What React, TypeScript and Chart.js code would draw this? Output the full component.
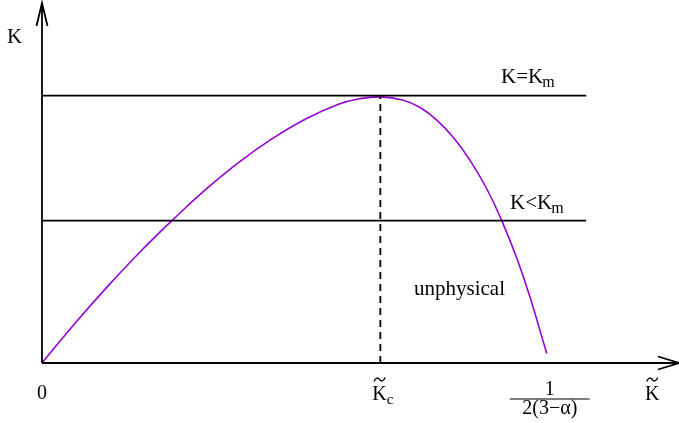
import React, { useEffect, useRef } from "react";
import { Chart, registerables } from "chart.js";

Chart.register(...registerables);

// Curve K(K~) (x: K~ in units of 1/(2(3-α)), y: K in units of K_m)
const curveX = [0, 0.0658, 0.1316, 0.1976, 0.2569, 0.3227, 0.3885, 0.4545, 0.5204, 0.5862, 0.6275, 0.669, 0.7146, 0.7476, 0.7806, 0.8134, 0.8464, 0.8794, 0.9091, 0.9387, 0.965, 0.998];
const curveY = [0, 0.1496, 0.2902, 0.4226, 0.5325, 0.647, 0.7491, 0.8377, 0.9114, 0.9675, 0.9878, 0.995, 0.9824, 0.9551, 0.9084, 0.8433, 0.7577, 0.6515, 0.5325, 0.3923, 0.2457, 0.0352];

const levelValues = [1, 0.5325]; // K = K_m, K < K_m
const levelLabels = ["K=K", "K<K"];
const levelEnd = 1.076;
const kcValue = 0.669;
const kcPeak = 0.995;
const xMax = 1.2595;
const yMax = 1.346;
const xTickValues = [0, kcValue, 1];

const SERIF = '"Liberation Serif", "DejaVu Serif", serif';

export default function App() {
  const ref = useRef<HTMLCanvasElement | null>(null);

  useEffect(() => {
    if (!ref.current) return;
    const black = "#000000";
    const purple = "#9400D3";

    const annot = {
      id: "annot",
      afterDatasetsDraw(chart: any) {
        const ctx = chart.ctx;
        const xs = chart.scales.x;
        const ys = chart.scales.y;
        const px = (v: number) => xs.getPixelForValue(v);
        const py = (v: number) => ys.getPixelForValue(v);
        ctx.save();
        ctx.strokeStyle = black;
        ctx.fillStyle = black;
        ctx.lineWidth = 1.8;
        // arrowheads
        const x0 = px(0), y0 = py(0);
        const xt = px(xMax), yt = py(yMax);
        ctx.beginPath();
        ctx.moveTo(xt - 21, y0 - 6.5);
        ctx.lineTo(xt, y0);
        ctx.lineTo(xt - 21, y0 + 6.5);
        ctx.stroke();
        ctx.beginPath();
        ctx.moveTo(x0 - 5.5, yt + 23);
        ctx.lineTo(x0, yt);
        ctx.lineTo(x0 + 5.5, yt + 23);
        ctx.stroke();

        ctx.textBaseline = "alphabetic";
        const font = (s: number) => `${s}px ${SERIF}`;
        const tilde = (cx: number, top: number) => {
          ctx.save();
          ctx.lineWidth = 1.3;
          ctx.beginPath();
          ctx.moveTo(cx - 5.5, top + 4.5);
          ctx.bezierCurveTo(cx - 4, top, cx - 1.5, top + 0.5, cx, top + 2.5);
          ctx.bezierCurveTo(cx + 1.5, top + 4.5, cx + 4, top + 5, cx + 5.5, top + 0.5);
          ctx.stroke();
          ctx.restore();
        };

        // axis label K (vertical)
        ctx.font = font(21);
        ctx.textAlign = "left";
        ctx.fillText("K", 7, 43);

        // tick 0
        ctx.font = font(20);
        ctx.textAlign = "center";
        ctx.fillText("0", px(xTickValues[0]), 399);

        // K~_c
        const kcx = px(xTickValues[1]);
        ctx.textAlign = "left";
        ctx.fillText("K", kcx - 8, 399.5);
        const kw = ctx.measureText("K").width;
        tilde(kcx - 8 + kw / 2, 377);
        ctx.font = font(15);
        ctx.fillText("c", kcx - 8 + kw, 404);

        // fraction 1/(2(3-α))
        const fx = px(xTickValues[2]) + 2;
        ctx.font = font(20);
        ctx.textAlign = "center";
        ctx.fillText("1", fx, 395);
        ctx.lineWidth = 1.2;
        ctx.beginPath();
        ctx.moveTo(fx - 40, 399);
        ctx.lineTo(fx + 40, 399);
        ctx.stroke();
        ctx.fillText("2(3\u2212\u03b1)", fx, 414);

        // axis label K~ (horizontal)
        ctx.textAlign = "left";
        ctx.fillText("K", 645, 400);
        const kw2 = ctx.measureText("K").width;
        tilde(645 + kw2 / 2, 377);

        // level labels
        const drawLevel = (txt: string, x: number, base: number) => {
          ctx.font = font(21);
          ctx.textAlign = "left";
          ctx.fillText(txt, x, base);
          const w = ctx.measureText(txt).width;
          ctx.font = font(16);
          ctx.fillText("m", x + w - 1, base + 4);
        };
        drawLevel(levelLabels[0], 501, py(levelValues[0]) - 12.5);
        drawLevel(levelLabels[1], 510, py(levelValues[1]) - 12);

        // region label
        ctx.font = font(21);
        ctx.textAlign = "left";
        ctx.fillText("unphysical", 414, 295);
        ctx.restore();
      },
    };

    const line = (pts: { x: number; y: number }[], color: string, width: number, dash: number[] = []) => ({
      data: pts,
      showLine: true,
      borderColor: color,
      borderWidth: width,
      borderDash: dash,
      pointRadius: 0,
      fill: false,
      tension: 0,
      clip: false as any,
    });

    const chart = new Chart(ref.current, {
      type: "scatter",
      data: {
        datasets: [
          line([{ x: 0, y: 0 }, { x: xMax, y: 0 }], black, 1.8),
          line([{ x: 0, y: 0 }, { x: 0, y: yMax }], black, 1.8),
          ...levelValues.map((v) => line([{ x: 0, y: v }, { x: levelEnd, y: v }], black, 1.8)),
          line([{ x: kcValue, y: 0 }, { x: kcValue, y: kcPeak }], black, 1.8, [7, 5]),
          {
            ...line(curveX.map((x, i) => ({ x, y: curveY[i] })), purple, 1.6),
            tension: 0.45,
          },
        ] as any,
      },
      options: {
        animation: false,
        responsive: false,
        devicePixelRatio: 1,
        layout: { padding: { left: 42, right: 0, top: 3, bottom: 60 } },
        scales: {
          x: { type: "linear", min: 0, max: xMax, display: false },
          y: { type: "linear", min: 0, max: yMax, display: false },
        },
        plugins: { legend: { display: false }, tooltip: { enabled: false } },
      },
      plugins: [annot],
    });
    return () => chart.destroy();
  }, []);

  return (
    <div style={{ position: "fixed", left: 0, top: 0, width: 679, height: 423, background: "#fff" }}>
      <canvas ref={ref} width={679} height={423} style={{ display: "block" }} />
    </div>
  );
}
